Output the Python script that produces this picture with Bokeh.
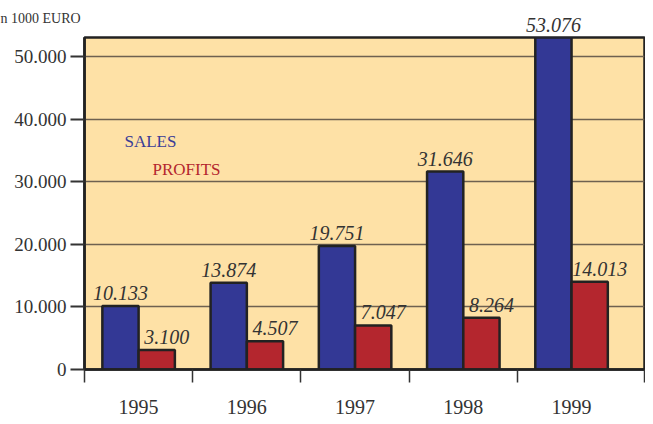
from bokeh.plotting import figure
from bokeh.models import FixedTicker, Label, ColumnDataSource, Range1d
from bokeh.embed import file_html
from bokeh.resources import INLINE
import numpy as np

years = ["1995", "1996", "1997", "1998", "1999"]
sales = [10133, 13874, 19751, 31646, 53076]
profits = [3100, 4507, 7047, 8264, 14013]
y_ticks = [0, 10000, 20000, 30000, 40000, 50000]

def fmt(v):
    return f"{v:,}".replace(",", ".")

n = len(years)
centers = np.arange(n) + 0.5
bw = 0.335
x_end = n + 0.174

src_s = ColumnDataSource(dict(x=centers - bw / 2, top=sales, lab=[fmt(v) for v in sales]))
src_p = ColumnDataSource(dict(x=centers + bw / 2, top=profits, lab=[fmt(v) for v in profits]))

FONT = "Liberation Serif"

p = figure(width=645, height=416, output_backend="svg", toolbar_location=None,
           x_range=Range1d(0, x_end), y_range=Range1d(0, 53076),
           title="n 1000 EURO",
           min_border_left=84, min_border_right=1, min_border_top=37, min_border_bottom=37)
p.title.align = "left"
p.title.vertical_align = "top"
p.title.offset = -84
p.title.text_font = FONT
p.title.text_font_size = "14px"
p.title.text_font_style = "normal"
p.title.text_color = "#333333"
p.title.standoff = 20

p.background_fill_color = "#FEE1A6"
p.border_fill_color = "white"
p.outline_line_color = "#222222"
p.outline_line_width = 2.5
p.xgrid.visible = False
p.ygrid.ticker = FixedTicker(ticks=y_ticks)
p.ygrid.grid_line_color = "#6e6150"
p.ygrid.grid_line_width = 1.5

p.vbar(x="x", top="top", width=bw, source=src_s, fill_color="#333895",
       line_color="#222222", line_width=2.5)
p.vbar(x="x", top="top", width=bw, source=src_p, fill_color="#B4262E",
       line_color="#222222", line_width=2.5)

p.text(x="x", y="top", text="lab", source=src_s, text_align="center", text_baseline="bottom",
       y_offset=-6, text_font=FONT, text_font_style="italic", text_font_size="20px",
       text_color="#333333", level="overlay")
p.text(x="x", y="top", text="lab", source=src_p, text_align="center", text_baseline="bottom",
       x_offset=10, y_offset=-6, text_font=FONT, text_font_style="italic", text_font_size="20px",
       text_color="#333333", level="overlay")

# y axis
ya = p.yaxis[0]
ya.ticker = FixedTicker(ticks=y_ticks)
ya.major_label_overrides = {v: fmt(v) for v in y_ticks}
ya.major_label_text_font = FONT
ya.major_label_text_font_size = "19px"
ya.major_label_text_color = "#333333"
ya.major_tick_out = 14
ya.major_tick_in = 0
ya.major_tick_line_color = "#333333"
ya.major_tick_line_width = 2
ya.minor_tick_line_color = None
ya.axis_line_color = "#222222"
ya.axis_line_width = 2.5
ya.major_label_standoff = 4

# x axis
xa = p.xaxis[0]
xa.ticker = FixedTicker(ticks=list(centers), minor_ticks=list(np.arange(n)) + [x_end])
xa.major_label_overrides = {float(c): y for c, y in zip(centers, years)}
xa.major_label_text_font = FONT
xa.major_label_text_font_size = "20px"
xa.major_label_text_color = "#333333"
xa.major_tick_out = 0
xa.major_tick_in = 0
xa.major_tick_line_color = None
xa.minor_tick_out = 13
xa.minor_tick_in = 0
xa.minor_tick_line_color = "#333333"
xa.minor_tick_line_width = 1.5
xa.axis_line_color = "#222222"
xa.axis_line_width = 2.5
xa.major_label_standoff = 17

# legend-like labels (screen units relative to the plot frame)
p.add_layout(Label(x=40, y=228, x_units="screen", y_units="screen", text="SALES",
                   text_font=FONT, text_font_size="17px", text_color="#3a3d97",
                   text_baseline="alphabetic"))
p.add_layout(Label(x=68, y=200, x_units="screen", y_units="screen", text="PROFITS",
                   text_font=FONT, text_font_size="17px", text_color="#B4262E",
                   text_baseline="alphabetic"))

open("out.html", "w").write(file_html(p, INLINE))
